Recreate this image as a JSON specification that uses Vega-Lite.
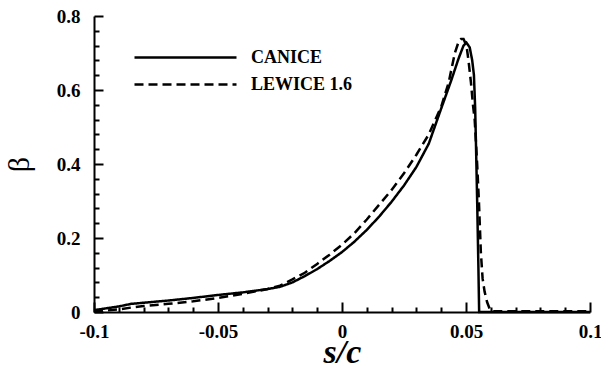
{
  "$schema": "https://vega.github.io/schema/vega-lite/v6.json",
  "width": 496,
  "height": 296,
  "autosize": "none",
  "padding": {"left": 94, "top": 16, "right": 11, "bottom": 56},
  "background": "white",
  "config": {"view": {"stroke": null}},
  "data": {
    "values": [
      {"s": -0.1, "b": 0.005, "m": "CANICE"},
      {"s": -0.095, "b": 0.01, "m": "CANICE"},
      {"s": -0.09, "b": 0.015, "m": "CANICE"},
      {"s": -0.085, "b": 0.022, "m": "CANICE"},
      {"s": -0.08, "b": 0.025, "m": "CANICE"},
      {"s": -0.07, "b": 0.031, "m": "CANICE"},
      {"s": -0.06, "b": 0.038, "m": "CANICE"},
      {"s": -0.05, "b": 0.046, "m": "CANICE"},
      {"s": -0.04, "b": 0.053, "m": "CANICE"},
      {"s": -0.03, "b": 0.062, "m": "CANICE"},
      {"s": -0.025, "b": 0.068, "m": "CANICE"},
      {"s": -0.02, "b": 0.08, "m": "CANICE"},
      {"s": -0.015, "b": 0.097, "m": "CANICE"},
      {"s": -0.01, "b": 0.116, "m": "CANICE"},
      {"s": -0.005, "b": 0.138, "m": "CANICE"},
      {"s": 0, "b": 0.162, "m": "CANICE"},
      {"s": 0.005, "b": 0.19, "m": "CANICE"},
      {"s": 0.01, "b": 0.222, "m": "CANICE"},
      {"s": 0.015, "b": 0.258, "m": "CANICE"},
      {"s": 0.02, "b": 0.298, "m": "CANICE"},
      {"s": 0.025, "b": 0.342, "m": "CANICE"},
      {"s": 0.03, "b": 0.392, "m": "CANICE"},
      {"s": 0.035, "b": 0.455, "m": "CANICE"},
      {"s": 0.04, "b": 0.55, "m": "CANICE"},
      {"s": 0.044, "b": 0.625, "m": "CANICE"},
      {"s": 0.047, "b": 0.685, "m": "CANICE"},
      {"s": 0.049, "b": 0.72, "m": "CANICE"},
      {"s": 0.0502, "b": 0.728, "m": "CANICE"},
      {"s": 0.0515, "b": 0.715, "m": "CANICE"},
      {"s": 0.0525, "b": 0.68, "m": "CANICE"},
      {"s": 0.0532, "b": 0.64, "m": "CANICE"},
      {"s": 0.0537, "b": 0.55, "m": "CANICE"},
      {"s": 0.054, "b": 0.46, "m": "CANICE"},
      {"s": 0.0545, "b": 0.3, "m": "CANICE"},
      {"s": 0.055, "b": 0.12, "m": "CANICE"},
      {"s": 0.0553, "b": 0, "m": "CANICE"},
      {"s": 0.1, "b": 0, "m": "CANICE"},
      {"s": -0.1, "b": 0.002, "m": "LEWICE 1.6"},
      {"s": -0.095, "b": 0.004, "m": "LEWICE 1.6"},
      {"s": -0.09, "b": 0.007, "m": "LEWICE 1.6"},
      {"s": -0.085, "b": 0.012, "m": "LEWICE 1.6"},
      {"s": -0.08, "b": 0.016, "m": "LEWICE 1.6"},
      {"s": -0.07, "b": 0.022, "m": "LEWICE 1.6"},
      {"s": -0.06, "b": 0.029, "m": "LEWICE 1.6"},
      {"s": -0.05, "b": 0.038, "m": "LEWICE 1.6"},
      {"s": -0.04, "b": 0.049, "m": "LEWICE 1.6"},
      {"s": -0.03, "b": 0.062, "m": "LEWICE 1.6"},
      {"s": -0.025, "b": 0.071, "m": "LEWICE 1.6"},
      {"s": -0.02, "b": 0.088, "m": "LEWICE 1.6"},
      {"s": -0.015, "b": 0.106, "m": "LEWICE 1.6"},
      {"s": -0.01, "b": 0.13, "m": "LEWICE 1.6"},
      {"s": -0.005, "b": 0.155, "m": "LEWICE 1.6"},
      {"s": 0, "b": 0.182, "m": "LEWICE 1.6"},
      {"s": 0.005, "b": 0.213, "m": "LEWICE 1.6"},
      {"s": 0.01, "b": 0.25, "m": "LEWICE 1.6"},
      {"s": 0.015, "b": 0.29, "m": "LEWICE 1.6"},
      {"s": 0.02, "b": 0.33, "m": "LEWICE 1.6"},
      {"s": 0.025, "b": 0.375, "m": "LEWICE 1.6"},
      {"s": 0.03, "b": 0.425, "m": "LEWICE 1.6"},
      {"s": 0.035, "b": 0.48, "m": "LEWICE 1.6"},
      {"s": 0.04, "b": 0.555, "m": "LEWICE 1.6"},
      {"s": 0.043, "b": 0.62, "m": "LEWICE 1.6"},
      {"s": 0.0455, "b": 0.7, "m": "LEWICE 1.6"},
      {"s": 0.047, "b": 0.73, "m": "LEWICE 1.6"},
      {"s": 0.048, "b": 0.738, "m": "LEWICE 1.6"},
      {"s": 0.049, "b": 0.738, "m": "LEWICE 1.6"},
      {"s": 0.0502, "b": 0.72, "m": "LEWICE 1.6"},
      {"s": 0.051, "b": 0.68, "m": "LEWICE 1.6"},
      {"s": 0.052, "b": 0.62, "m": "LEWICE 1.6"},
      {"s": 0.0528, "b": 0.56, "m": "LEWICE 1.6"},
      {"s": 0.0535, "b": 0.52, "m": "LEWICE 1.6"},
      {"s": 0.0545, "b": 0.4, "m": "LEWICE 1.6"},
      {"s": 0.0552, "b": 0.3, "m": "LEWICE 1.6"},
      {"s": 0.056, "b": 0.16, "m": "LEWICE 1.6"},
      {"s": 0.0567, "b": 0.09, "m": "LEWICE 1.6"},
      {"s": 0.0575, "b": 0.055, "m": "LEWICE 1.6"},
      {"s": 0.0585, "b": 0.027, "m": "LEWICE 1.6"},
      {"s": 0.0597, "b": 0.006, "m": "LEWICE 1.6"},
      {"s": 0.061, "b": 0.002, "m": "LEWICE 1.6"},
      {"s": 0.1, "b": 0.002, "m": "LEWICE 1.6"}
    ]
  },
  "layer": [
    {
      "mark": {"type": "line", "color": "black", "strokeWidth": 2.5},
      "encoding": {
        "x": {
          "field": "s", "type": "quantitative",
          "scale": {"domain": [-0.1, 0.1], "nice": false, "zero": false},
          "axis": {
            "values": [-0.1, -0.05, 0, 0.05, 0.1],
            "labelExpr": "'' + datum.value",
            "labelFont": "Liberation Serif",
            "labelFontWeight": "bold",
            "labelFontSize": 19,
            "labelColor": "#000",
            "labelFlush": false,
            "grid": false,
            "zindex": 1,
            "domainColor": "#000",
            "domainWidth": 2,
            "tickColor": "#000",
            "tickWidth": 2,
            "tickSize": -10,
            "labelPadding": 20,
            "title": "s/c",
            "titleFont": "Liberation Serif",
            "titleColor": "#000",
            "titleFontSize": 34,
            "titleFontStyle": "italic",
            "titleFontWeight": "bold",
            "titlePadding": -6
          }
        },
        "y": {
          "field": "b", "type": "quantitative",
          "scale": {"domain": [0, 0.8], "nice": false},
          "axis": {
            "values": [0, 0.2, 0.4, 0.6, 0.8],
            "labelExpr": "'' + datum.value",
            "labelFont": "Liberation Serif",
            "labelFontWeight": "bold",
            "labelFontSize": 19,
            "labelColor": "#000",
            "labelFlush": false,
            "grid": false,
            "zindex": 1,
            "domainColor": "#000",
            "domainWidth": 2,
            "tickColor": "#000",
            "tickWidth": 2,
            "tickSize": -9,
            "labelPadding": 23,
            "title": "β",
            "titleFont": "Liberation Serif",
            "titleColor": "#000",
            "titleFontSize": 30,
            "titleFontWeight": "normal",
            "titlePadding": 22
          }
        },
        "strokeDash": {
          "field": "m", "type": "nominal",
          "scale": {"domain": ["CANICE", "LEWICE 1.6"], "range": [[1, 0], [9, 5]]},
          "legend": {
            "title": null,
            "orient": "none",
            "legendX": 80,
            "legendY": 30,
            "padding": 0,
            "symbolType": "M-5.1,0H5.1",
            "symbolSize": 400,
            "symbolStrokeWidth": 2.5,
            "symbolStrokeColor": "black",
            "labelFont": "Liberation Serif",
            "labelFontWeight": "bold",
            "labelFontSize": 18,
            "labelColor": "black",
            "labelOffset": 54,
            "rowPadding": 6
          }
        }
      }
    },
    {
      "mark": {"type": "point", "opacity": 0},
      "encoding": {
        "x": {
          "field": "s", "type": "quantitative",
          "axis": {
            "orient": "bottom",
            "values": [-0.09, -0.08, -0.07, -0.06, -0.04, -0.03, -0.02, -0.01, 0.01, 0.02, 0.03, 0.04, 0.06, 0.07, 0.08, 0.09],
            "labels": false,
            "domain": false,
            "grid": false,
            "zindex": 1,
            "tickColor": "#000",
            "tickWidth": 2,
            "tickSize": 5,
            "offset": -5,
            "title": null
          }
        },
        "y": {
          "field": "b", "type": "quantitative",
          "axis": {
            "orient": "left",
            "values": [0.04, 0.08, 0.12, 0.16, 0.24, 0.28, 0.32, 0.36, 0.44, 0.48, 0.52, 0.56, 0.64, 0.68, 0.72, 0.76],
            "labels": false,
            "domain": false,
            "grid": false,
            "zindex": 1,
            "tickColor": "#000",
            "tickWidth": 2,
            "tickSize": 5,
            "offset": -5,
            "title": null
          }
        }
      }
    }
  ],
  "resolve": {"axis": {"x": "independent", "y": "independent"}}
}
